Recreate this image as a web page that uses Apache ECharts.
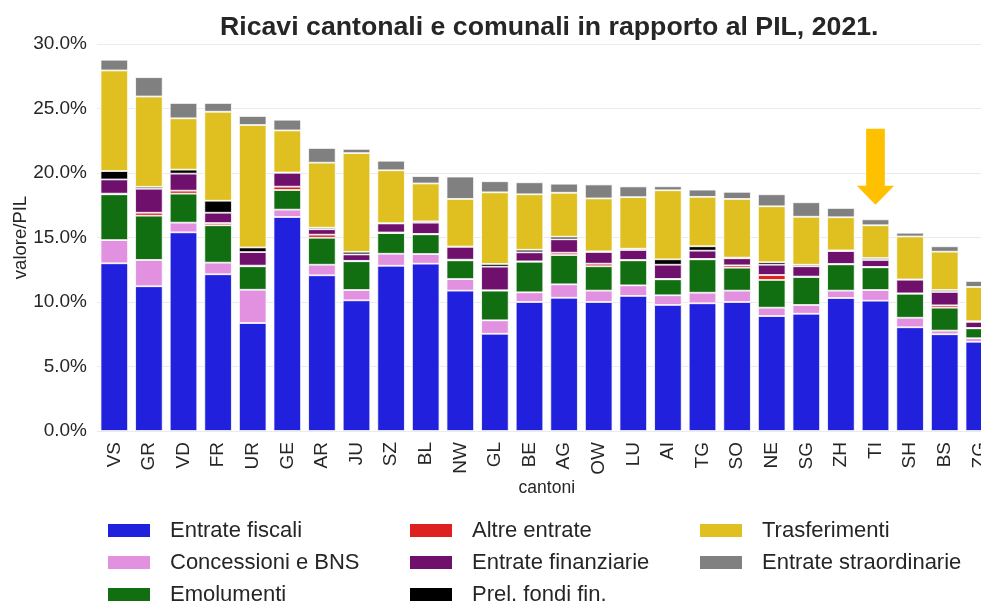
<!DOCTYPE html>
<html>
<head>
<meta charset="utf-8">
<script src="https://cdn.jsdelivr.net/npm/echarts@6/dist/echarts.min.js"></script>
<style>html,body{margin:0;padding:0;background:#fff;overflow:hidden}#c{width:981px;height:602px}</style>
</head>
<body>
<div id="c"></div>
<script>
var cantons = ['VS','GR','VD','FR','UR','GE','AR','JU','SZ','BL','NW','GL','BE','AG','OW','LU','AI','TG','SO','NE','SG','ZH','TI','SH','BS','ZG'];
var fiscali = [13.0, 11.22, 15.40, 12.15, 8.37, 16.59, 12.07, 10.13, 12.81, 12.97, 10.88, 7.54, 10.0, 10.33, 10.0, 10.47, 9.77, 9.9, 10.0, 8.91, 9.09, 10.31, 10.1, 8.04, 7.5, 6.92];
var concessioni = [1.8, 2.04, 0.75, 0.9, 2.58, 0.57, 0.82, 0.8, 0.93, 0.75, 0.9, 1.04, 0.75, 1.04, 0.88, 0.82, 0.75, 0.82, 0.88, 0.65, 0.68, 0.57, 0.83, 0.74, 0.28, 0.27];
var emolumenti = [3.55, 3.43, 2.25, 2.9, 1.82, 1.52, 2.09, 2.23, 1.6, 1.53, 1.45, 2.3, 2.37, 2.27, 1.89, 1.94, 1.24, 2.59, 1.78, 2.15, 2.17, 2.04, 1.76, 1.86, 1.78, 0.77];
var altre = [0.05, 0.23, 0.23, 0.17, 0.05, 0.26, 0.24, 0.03, 0.05, 0.03, 0.05, 0.03, 0.03, 0.18, 0.2, 0.03, 0.03, 0.03, 0.18, 0.38, 0.03, 0.03, 0.03, 0.03, 0.18, 0.03];
var finanziarie = [1.1, 1.86, 1.32, 0.8, 1.05, 1.08, 0.42, 0.5, 0.7, 0.87, 1.0, 1.83, 0.7, 1.04, 0.91, 0.77, 1.1, 0.64, 0.55, 0.8, 0.8, 1.0, 0.54, 1.06, 1.04, 0.47];
var prelievi = [0.65, 0.15, 0.31, 0.93, 0.36, 0.02, 0.12, 0.2, 0.02, 0.1, 0.02, 0.21, 0.2, 0.2, 0.05, 0.1, 0.42, 0.34, 0.05, 0.19, 0.12, 0.05, 0.15, 0.02, 0.15, 0.05];
var trasferimenti = [7.8, 7.0, 3.98, 6.9, 9.49, 3.26, 5.04, 7.65, 4.1, 2.94, 3.69, 5.55, 4.3, 3.41, 4.1, 4.0, 5.35, 3.83, 4.55, 4.34, 3.72, 2.57, 2.54, 3.33, 2.97, 2.66];
var straordinarie = [0.83, 1.5, 1.19, 0.68, 0.7, 0.83, 1.14, 0.33, 0.74, 0.57, 1.73, 0.86, 0.93, 0.7, 1.08, 0.83, 0.31, 0.56, 0.55, 0.93, 1.12, 0.72, 0.46, 0.29, 0.42, 0.46];
var yTicks = [0, 5, 10, 15, 20, 25, 30];
var arrowCanton = 'TI';
var arrowCenter = 20.48;

var seriesDefs = [
  ['Entrate fiscali', fiscali, '#2020dd'],
  ['Concessioni e BNS', concessioni, '#e291e0'],
  ['Emolumenti', emolumenti, '#116f11'],
  ['Altre entrate', altre, '#de2020'],
  ['Entrate finanziarie', finanziarie, '#6f106d'],
  ['Prel. fondi fin.', prelievi, '#000000'],
  ['Trasferimenti', trasferimenti, '#dfc020'],
  ['Entrate straordinarie', straordinarie, '#808080']
];
var FONT = "'Liberation Sans', Arial, sans-serif";
var TXT = '#262626';

var series = seriesDefs.map(function (d) {
  return {
    name: d[0], type: 'bar', stack: 'tot', data: d[1], barWidth: 27.5,
    itemStyle: { color: d[2], borderColor: '#ffffff', borderWidth: 0.8 },
    emphasis: { disabled: true }
  };
});
series.push({
  name: 'freccia', type: 'scatter', silent: true, z: 10,
  data: [[arrowCanton, arrowCenter]],
  symbol: 'path://M9.3 0 L28 0 L28 57 L37.3 57 L18.65 76 L0 57 L9.3 57 Z',
  symbolSize: [37.3, 76], symbolKeepAspect: false,
  itemStyle: { color: '#ffc000', opacity: 1 }
});

// legend slots: column-major, 3 rows
var colLeft = [101, 403, 693];
var rowTop = [514.5, 546.5, 578.5];
var legends = seriesDefs.map(function (d, i) {
  var col = Math.floor(i / 3), row = i % 3;
  return {
    left: colLeft[col], top: rowTop[row], orient: 'horizontal', data: [d[0]], icon: 'rect',
    itemWidth: 44, itemHeight: 15, selectedMode: false,
    textStyle: { fontFamily: FONT, fontSize: 22, color: TXT, lineHeight: 22, padding: [0, 0, 0, 14] }
  };
});

var chart = echarts.init(document.getElementById('c'));
chart.setOption({
  animation: false,
  backgroundColor: '#ffffff',
  title: {
    text: 'Ricavi cantonali e comunali in rapporto al PIL, 2021.',
    left: 215, top: 9,
    textStyle: { fontFamily: FONT, fontSize: 26.7, fontWeight: 'bold', color: TXT }
  },
  legend: legends,
  grid: { left: 97, top: 44, width: 899.6, height: 387, containLabel: false, outerBoundsMode: 'none' },
  xAxis: {
    type: 'category', data: cantons,
    name: 'cantoni', nameLocation: 'middle', nameGap: 48, nameMoveOverlap: false,
    nameTextStyle: { fontFamily: FONT, fontSize: 17.5, color: TXT },
    axisLine: { show: false }, axisTick: { show: false },
    axisLabel: { rotate: 90, fontFamily: FONT, fontSize: 19, color: TXT, margin: 11, interval: 0 }
  },
  yAxis: {
    type: 'value', min: yTicks[0], max: yTicks[yTicks.length - 1], interval: 5,
    name: 'valore/PIL', nameLocation: 'middle', nameGap: 67, nameMoveOverlap: false,
    nameTextStyle: { fontFamily: FONT, fontSize: 18.5, color: TXT },
    axisLine: { show: false }, axisTick: { show: false },
    splitLine: { lineStyle: { color: '#ebebeb', width: 1 } },
    axisLabel: { fontFamily: FONT, fontSize: 19, color: TXT, margin: 10,
      formatter: function (v) { return v.toFixed(1) + '%'; } }
  },
  series: series
});
</script>
</body>
</html>
